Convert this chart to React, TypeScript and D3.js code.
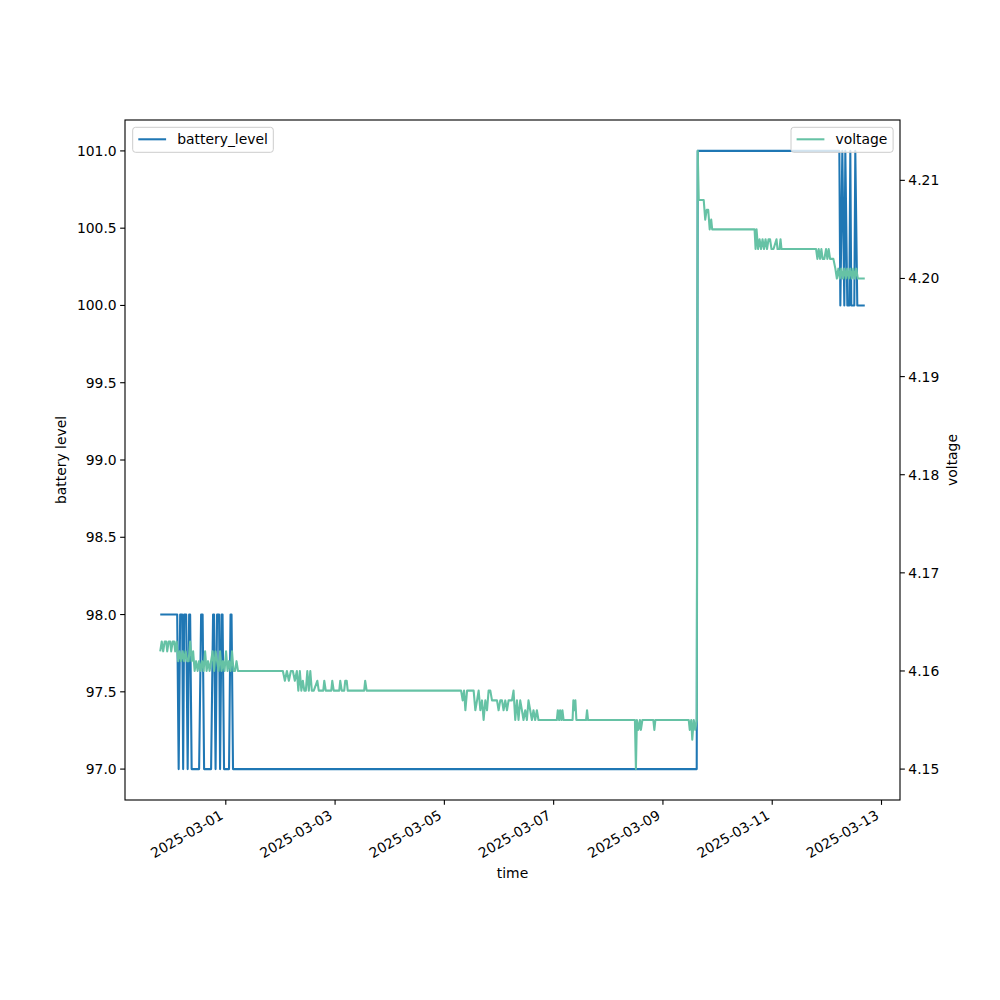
import React from "react";
import * as d3 from "d3";

// ---- data ----
const startTime = "2025-02-27T19:12:00";

const batteryHours = [
  0, 7.45, 8.1, 8.76, 9.64, 10.07, 10.51, 11.39, 12.05, 12.7, 13.14, 13.8, 17.08, 17.96, 18.62, 19.27,
  22.34, 23.21, 23.65, 24.31, 24.97, 25.84, 26.28, 26.94, 27.38, 28.03, 30.22, 30.88, 31.32, 31.97,
  235.64, 236.08, 298.28, 298.72, 299.59, 300.47, 300.91, 301.78, 302.66, 303.1, 303.53, 304.85,
  305.29, 306.16, 309.45,
];
const batteryLevel = [
  98, 98, 97, 98, 98, 97, 98, 98, 97, 98, 98, 97, 97, 98, 98, 97,
  97, 98, 98, 97, 98, 98, 97, 98, 98, 97, 97, 98, 98, 97,
  97, 101, 101, 100, 101, 100, 101, 100, 100, 101, 100, 100,
  101, 100, 100,
];

const voltageHours = [
  0, 0.66, 1.31, 1.97, 2.63, 3.07, 3.72, 4.38, 4.82, 5.48, 6.13, 6.57, 7.23, 7.88, 8.54, 9.2,
  9.86, 10.51, 11.17, 11.83, 12.48, 13.14, 13.8, 14.45, 15.11, 15.77, 16.43, 17.08, 17.74, 18.4,
  19.05, 19.71, 20.37, 21.02, 21.68, 22.34, 23.0, 23.65, 24.31, 24.97, 25.62, 26.28, 26.94, 27.59,
  28.25, 28.91, 29.57, 30.22, 30.88, 31.54, 32.19, 32.85, 33.51, 34.16,
  53.87, 54.75, 55.63, 56.5, 57.38, 58.25, 59.13, 60.01, 60.66, 61.32, 61.98, 62.63, 63.29, 63.95,
  64.61, 65.26, 65.92, 66.58, 67.45, 68.99, 69.64, 71.61, 72.05, 72.71, 75.12, 75.56, 76.21, 78.62,
  79.06, 79.72, 80.81, 81.25, 81.91, 82.35, 89.57, 90.01, 90.67,
  132.14, 132.84, 133.45, 134.03, 134.77, 137.66, 138.4, 139.15, 139.85, 140.6, 141.34, 142.04,
  142.79, 143.53, 144.23, 144.98, 145.72, 146.42, 147.17, 147.91, 148.61, 149.36, 150.1, 150.8,
  151.55, 152.3, 153.0, 153.74, 154.48, 155.18, 155.93, 156.67, 157.37, 158.12, 158.86, 159.56,
  160.31, 161.05, 161.75, 162.5, 163.24, 163.94, 164.69, 165.43, 166.13, 166.88,
  174.19, 174.63, 175.2, 175.64, 176.21, 176.65, 177.17, 181.11, 181.46, 181.9, 182.34, 182.78,
  187.03, 187.47, 187.91, 208.49, 208.93, 209.36, 210.02, 210.68, 211.12, 211.77, 216.59, 217.03,
  217.47, 232.14, 232.58, 233.24, 233.68, 234.33, 234.99, 235.64,
  236.08, 236.52, 238.71, 239.37, 240.02, 240.68, 241.34, 242.0, 242.43,
  261.05, 261.49, 261.92, 262.58, 263.24, 263.9, 264.55, 265.21, 265.87, 266.52, 267.18, 267.84,
  268.49, 269.37, 270.68, 271.12, 272.0, 272.44, 272.87,
  288.07, 288.64, 289.21, 289.83, 290.39, 290.96, 291.71, 292.45, 293.02, 293.6, 294.21, 295.66,
  296.53, 297.19, 297.85, 298.51, 299.15, 299.81, 300.47, 301.13, 301.78, 302.44, 303.1, 303.75,
  304.41, 305.07, 305.72, 306.38, 309.45,
];
const voltage = [
  4.162, 4.163, 4.162, 4.163, 4.163, 4.162, 4.163, 4.163, 4.162, 4.163, 4.163, 4.162, 4.163, 4.161, 4.162, 4.161,
  4.162, 4.161, 4.162, 4.161, 4.161, 4.163, 4.161, 4.162, 4.16, 4.161, 4.16, 4.161, 4.16, 4.161,
  4.16, 4.162, 4.16, 4.161, 4.16, 4.161, 4.162, 4.16, 4.162, 4.161, 4.16, 4.162, 4.16, 4.161,
  4.16, 4.162, 4.16, 4.161, 4.16, 4.162, 4.16, 4.16, 4.161, 4.16,
  4.16, 4.159, 4.16, 4.159, 4.16, 4.16, 4.159, 4.16, 4.158, 4.16, 4.158, 4.159, 4.158, 4.158,
  4.16, 4.158, 4.16, 4.158, 4.158, 4.159, 4.158, 4.158, 4.159, 4.158, 4.158, 4.159, 4.158, 4.158,
  4.159, 4.158, 4.158, 4.159, 4.159, 4.158, 4.158, 4.159, 4.158,
  4.158, 4.157, 4.158, 4.156, 4.158, 4.158, 4.156, 4.157, 4.158, 4.156, 4.157, 4.155,
  4.157, 4.156, 4.158, 4.158, 4.157, 4.157, 4.157, 4.157, 4.156, 4.157, 4.157, 4.156,
  4.157, 4.156, 4.157, 4.157, 4.157, 4.158, 4.155, 4.157, 4.155, 4.157, 4.156, 4.155,
  4.156, 4.155, 4.157, 4.156, 4.155, 4.156, 4.155, 4.156, 4.155, 4.155,
  4.155, 4.156, 4.155, 4.156, 4.155, 4.156, 4.155, 4.155, 4.157, 4.156, 4.157, 4.155,
  4.155, 4.156, 4.155, 4.155, 4.15, 4.155, 4.154, 4.155, 4.154, 4.155, 4.155, 4.154,
  4.155, 4.155, 4.154, 4.155, 4.153, 4.155, 4.154, 4.155,
  4.213, 4.208, 4.208, 4.206, 4.207, 4.207, 4.205, 4.206, 4.205,
  4.205, 4.203, 4.205, 4.203, 4.204, 4.203, 4.204, 4.203, 4.204, 4.203, 4.204, 4.204,
  4.203, 4.203, 4.204, 4.203, 4.203, 4.204, 4.203,
  4.203, 4.202, 4.203, 4.202, 4.203, 4.202, 4.202, 4.203, 4.202, 4.203, 4.202, 4.202,
  4.201, 4.2, 4.201, 4.2, 4.201, 4.2, 4.201, 4.2, 4.201, 4.2, 4.201, 4.2,
  4.201, 4.2, 4.201, 4.2, 4.2,
];

const xTickLabels = [
  "2025-03-01", "2025-03-03", "2025-03-05", "2025-03-07", "2025-03-09", "2025-03-11", "2025-03-13",
];
const leftTicks = [97.0, 97.5, 98.0, 98.5, 99.0, 99.5, 100.0, 100.5, 101.0];
const rightTicks = [4.15, 4.16, 4.17, 4.18, 4.19, 4.2, 4.21];

// ---- layout ----
const W = 1000;
const H = 1000;
const L = 125;
const R = 900;
const T = 120;
const B = 800;
const FONT = "DejaVu Sans, sans-serif";
const FS = 13.9;
const BLUE = "#1f77b4";
const GREEN = "#66c2a5";

function parseLocal(s: string) {
  const [d, t] = s.split("T");
  const [y, m, dd] = d.split("-").map(Number);
  const [hh, mm] = (t || "00:00").split(":").map(Number);
  return new Date(y, m - 1, dd, hh, mm);
}

function pad(ext: [number, number]): [number, number] {
  const r = ext[1] - ext[0];
  return [ext[0] - 0.05 * r, ext[1] + 0.05 * r];
}

export default function App() {
  const t0 = parseLocal(startTime).getTime();
  const toDate = (h: number) => new Date(t0 + h * 3600e3);
  const battery = batteryHours.map((h, i) => ({ t: toDate(h), v: batteryLevel[i] }));
  const volt = voltageHours.map((h, i) => ({ t: toDate(h), v: voltage[i] }));

  const allT = [...battery, ...volt].map((d) => d.t.getTime());
  const tx = pad([d3.min(allT)!, d3.max(allT)!]);
  const x = d3.scaleTime().domain([new Date(tx[0]), new Date(tx[1])]).range([L, R]);
  const yL = d3
    .scaleLinear()
    .domain(pad(d3.extent(batteryLevel) as [number, number]))
    .range([B, T]);
  const yR = d3
    .scaleLinear()
    .domain(pad(d3.extent(voltage) as [number, number]))
    .range([B, T]);

  const lineB = d3
    .line<{ t: Date; v: number }>()
    .x((d) => x(d.t))
    .y((d) => yL(d.v));
  const lineV = d3
    .line<{ t: Date; v: number }>()
    .x((d) => x(d.t))
    .y((d) => yR(d.v));

  const tickLen = 4.86;
  const sw = 1.11;

  return (
    <svg
      width={W}
      height={H}
      style={{ position: "absolute", left: 0, top: 0, background: "#fff" }}
      fontFamily={FONT}
    >
      <rect x={0} y={0} width={W} height={H} fill="#fff" />
      <defs>
        <clipPath id="plotclip">
          <rect x={L} y={T} width={R - L} height={B - T} />
        </clipPath>
      </defs>

      {/* battery line */}
      <path
        d={lineB(battery) || ""}
        fill="none"
        stroke={BLUE}
        strokeWidth={2.08}
        strokeLinejoin="round"
        strokeLinecap="butt"
        clipPath="url(#plotclip)"
      />

      {/* battery legend (ax1) */}
      <g>
        <rect x={132.7} y={127.3} width={140.6} height={25} rx={2.8} fill="#fff" fillOpacity={0.8} stroke="#cccccc" strokeWidth={1} />
        <line x1={138.3} x2={166.1} y1={139.3} y2={139.3} stroke={BLUE} strokeWidth={2.08} />
        <text x={177.2} y={139.3} dy="0.36em" fontSize={FS} fill="#000">
          battery_level
        </text>
      </g>

      {/* voltage line (ax2, on top) */}
      <path
        d={lineV(volt) || ""}
        fill="none"
        stroke={GREEN}
        strokeWidth={2.08}
        strokeLinejoin="round"
        strokeLinecap="butt"
        clipPath="url(#plotclip)"
      />

      {/* frame */}
      <rect x={L} y={T} width={R - L} height={B - T} fill="none" stroke="#000" strokeWidth={sw} />

      {/* x ticks */}
      {xTickLabels.map((s) => {
        const px = x(parseLocal(s));
        return (
          <g key={s}>
            <line x1={px} x2={px} y1={B} y2={B + tickLen} stroke="#000" strokeWidth={sw} />
            <g transform={`translate(${px},${B + 21}) rotate(-30)`}>
              <text x={0} y={-3.3} textAnchor="end" fontSize={FS} fill="#000">
                {s}
              </text>
            </g>
          </g>
        );
      })}

      {/* left ticks */}
      {leftTicks.map((v) => (
        <g key={v}>
          <line x1={L - tickLen} x2={L} y1={yL(v)} y2={yL(v)} stroke="#000" strokeWidth={sw} />
          <text x={L - 8.3} y={yL(v)} dy="0.36em" textAnchor="end" fontSize={FS} fill="#000">
            {d3.format(".1f")(v)}
          </text>
        </g>
      ))}

      {/* right ticks */}
      {rightTicks.map((v) => (
        <g key={v}>
          <line x1={R} x2={R + tickLen} y1={yR(v)} y2={yR(v)} stroke="#000" strokeWidth={sw} />
          <text x={R + 8.3} y={yR(v)} dy="0.36em" textAnchor="start" fontSize={FS} fill="#000">
            {d3.format(".2f")(v)}
          </text>
        </g>
      ))}

      {/* axis labels */}
      <text x={(L + R) / 2} y={878} textAnchor="middle" fontSize={FS} fill="#000">
        time
      </text>
      <text
        transform={`translate(66,${(T + B) / 2}) rotate(-90)`}
        textAnchor="middle"
        fontSize={FS}
        fill="#000"
      >
        battery level
      </text>
      <text
        transform={`translate(957,${(T + B) / 2}) rotate(-90)`}
        textAnchor="middle"
        fontSize={FS}
        fill="#000"
      >
        voltage
      </text>

      {/* voltage legend (ax2) */}
      <g>
        <rect x={791} y={127.3} width={102.1} height={25} rx={2.8} fill="#fff" fillOpacity={0.8} stroke="#cccccc" strokeWidth={1} />
        <line x1={796.6} x2={824.4} y1={139.3} y2={139.3} stroke={GREEN} strokeWidth={2.08} />
        <text x={835.5} y={139.3} dy="0.36em" fontSize={FS} fill="#000">
          voltage
        </text>
      </g>
    </svg>
  );
}
